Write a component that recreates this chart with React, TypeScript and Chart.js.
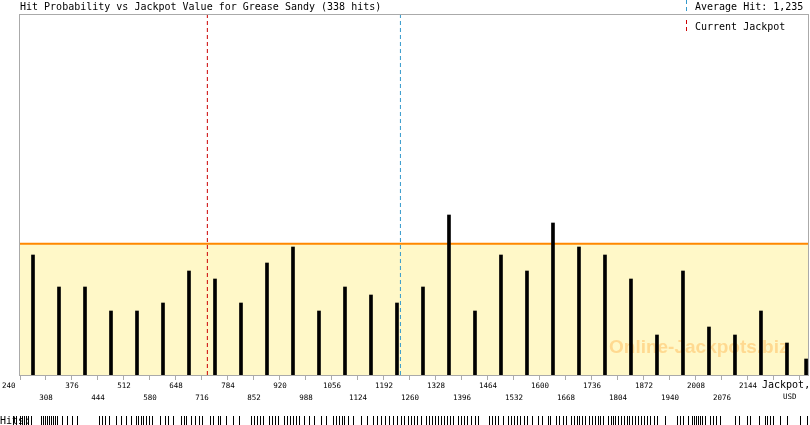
import { useEffect, useRef } from 'react';
import { Chart, registerables } from 'chart.js';

Chart.register(...registerables);

// jackpot bins (centre of each 68-wide bin; last bin is cut by the axis end)
const binCenters = [
  274, 342, 410, 478, 546, 614, 682, 750, 818, 886, 954, 1022, 1090, 1158, 1226, 1294,
  1362, 1430, 1498, 1566, 1634, 1702, 1770, 1838, 1906, 1974, 2042, 2110, 2178, 2246, 2296,
];
const hitCounts = [
  15, 11, 11, 8, 8, 9, 13, 12, 9, 14, 16, 8, 11, 10, 9, 11,
  20, 8, 15, 13, 19, 16, 15, 12, 5, 13, 6, 5, 8, 4, 2,
];

const tickValues = [
  240, 308, 376, 444, 512, 580, 648, 716, 784, 852, 920, 988, 1056, 1124, 1192, 1260,
  1328, 1396, 1464, 1532, 1600, 1668, 1736, 1804, 1872, 1940, 2008, 2076, 2144, 2212, 2280,
];
const labelledTicks = 29;

// jackpot value at each single hit (the strip under the axis)
const hitJackpots = [
  222, 230, 240, 245, 250, 256, 261, 269, 295, 300, 306, 311, 316, 321, 327, 332, 337, 350,
  363, 376, 389, 447, 455, 463, 473, 492, 505, 518, 531, 544, 549, 557, 563, 570, 578, 586,
  607, 620, 626, 639, 662, 670, 675, 686, 699, 709, 717, 738, 746, 757, 762, 778, 796, 814,
  843, 851, 859, 867, 875, 890, 898, 906, 914, 930, 938, 945, 953, 961, 969, 982, 995, 1008,
  1027, 1040, 1058, 1066, 1074, 1082, 1087, 1098, 1111, 1132, 1147, 1163, 1174, 1184, 1195,
  1205, 1216, 1226, 1237, 1244, 1255, 1263, 1271, 1279, 1289, 1302, 1310, 1318, 1326, 1334,
  1341, 1349, 1357, 1365, 1373, 1386, 1394, 1402, 1410, 1420, 1431, 1439, 1467, 1475, 1483,
  1491, 1504, 1517, 1525, 1533, 1541, 1549, 1557, 1567, 1578, 1596, 1606, 1622, 1627, 1643,
  1651, 1661, 1669, 1680, 1688, 1696, 1703, 1711, 1719, 1727, 1735, 1743, 1751, 1758, 1766,
  1779, 1785, 1790, 1795, 1803, 1811, 1819, 1827, 1832, 1840, 1848, 1856, 1863, 1871, 1879,
  1887, 1897, 1905, 1926, 1958, 1966, 1974, 1987, 1997, 2002, 2008, 2013, 2018, 2023, 2031,
  2044, 2052, 2060, 2071, 2110, 2120, 2141, 2149, 2173, 2189, 2194, 2202, 2210, 2228, 2246,
  2280, 2299,
];

const axisMin = 240;
const axisMax = 2301;
const yMax = 45;
const averageHit = 1235;
const currentJackpot = 730;
const averageLevel = 16.4;
const totalHits = 338;
const gameName = 'Grease Sandy';

const MONO = '"DejaVu Sans Mono", monospace';
const FRAME = '#aaaaaa';
const BLUE = '#3399cc';
const RED = '#cc0000';

const decor = {
  id: 'decor',
  afterDatasetDraw(chart: any, args: any) {
    if (args.index !== 0) return;
    const { ctx, chartArea } = chart;
    ctx.save();
    ctx.font = 'bold 19px "Liberation Sans", Arial, sans-serif';
    ctx.fillStyle = 'rgba(255,160,40,0.35)';
    ctx.textAlign = 'left';
    ctx.textBaseline = 'middle';
    ctx.fillText('Online-Jackpots.biz', chartArea.right - 199, chartArea.bottom - 27);
    ctx.restore();
  },
  afterDraw(chart: any) {
    const { ctx, chartArea } = chart;
    const x = chart.scales.x;
    ctx.save();
    ctx.strokeStyle = FRAME;
    ctx.lineWidth = 1;
    ctx.strokeRect(chartArea.left - 0.5, chartArea.top - 0.5, chartArea.right - chartArea.left + 1, chartArea.bottom - chartArea.top + 1);

    ctx.fillStyle = '#000';
    ctx.font = `10px ${MONO}`;
    ctx.textBaseline = 'middle';
    ctx.textAlign = 'left';
    ctx.fillText(`Hit Probability vs Jackpot Value for ${gameName} (${totalHits} hits)`, chartArea.left, 7);
    ctx.fillText(`Average Hit: ${averageHit.toLocaleString('en-US')}`, 695, 7);
    ctx.fillText('Current Jackpot', 695, 27);
    ctx.fillText('Jackpot,', 762, chartArea.bottom + 10);
    ctx.font = `7.5px ${MONO}`;
    ctx.fillText('USD', 783, chartArea.bottom + 22.5);
    ctx.font = `10px ${MONO}`;
    ctx.fillText('Hits:', 0, 421);

    ctx.lineWidth = 1;
    ctx.setLineDash([4, 3]);
    ctx.strokeStyle = BLUE;
    ctx.beginPath();
    ctx.moveTo(686.5, 0);
    ctx.lineTo(686.5, 12);
    ctx.stroke();
    ctx.strokeStyle = RED;
    ctx.beginPath();
    ctx.moveTo(686.5, 20);
    ctx.lineTo(686.5, 33);
    ctx.stroke();
    ctx.setLineDash([]);

    ctx.fillStyle = '#000';
    hitJackpots.forEach((v) => {
      ctx.fillRect(Math.round(x.getPixelForValue(v)), 416, 1, 10);
    });
    ctx.restore();
  },
};

export default function App() {
  const canvasRef = useRef<HTMLCanvasElement>(null);
  const chartRef = useRef<Chart | null>(null);

  useEffect(() => {
    document.body.style.margin = '0';
    if (!canvasRef.current) return;

    chartRef.current = new Chart(canvasRef.current, {
      type: 'bar',
      data: {
        datasets: [
          {
            type: 'line',
            data: [{ x: axisMin, y: averageLevel }, { x: axisMax, y: averageLevel }],
            borderColor: '#ff8800',
            borderWidth: 2,
            backgroundColor: '#fff8c8',
            fill: 'origin',
            pointRadius: 0,
            order: 3,
          } as any,
          {
            data: binCenters.map((c, i) => ({ x: c, y: hitCounts[i] })),
            backgroundColor: '#000',
            barThickness: 3,
            order: 1,
          },
          {
            type: 'line',
            data: [{ x: averageHit, y: 0 }, { x: averageHit, y: yMax }],
            borderColor: BLUE,
            borderWidth: 1,
            borderDash: [4, 3],
            pointRadius: 0,
            fill: false,
            order: 0,
          } as any,
          {
            type: 'line',
            data: [{ x: currentJackpot, y: 0 }, { x: currentJackpot, y: yMax }],
            borderColor: RED,
            borderWidth: 1,
            borderDash: [4, 3],
            pointRadius: 0,
            fill: false,
            order: 0,
          } as any,
        ],
      },
      options: {
        responsive: true,
        maintainAspectRatio: false,
        animation: false,
        layout: { padding: { left: 20, right: 2, top: 15, bottom: 0 } },
        plugins: { legend: { display: false }, tooltip: { enabled: false }, title: { display: false } },
        scales: {
          x: {
            type: 'linear',
            min: axisMin,
            max: axisMax,
            offset: false,
            afterFit: (s: any) => {
              s.height = 50;
            },
            afterBuildTicks: (s: any) => {
              s.ticks = tickValues.map((v) => ({ value: v }));
            },
            border: { color: FRAME, width: 1 },
            grid: { offset: false, drawOnChartArea: false, drawTicks: true, tickLength: 5, tickColor: FRAME },
            ticks: {
              autoSkip: false,
              maxRotation: 0,
              padding: 0,
              color: '#000',
              font: { family: MONO, size: 7.5, lineHeight: 1.6 },
              callback: (_v: any, i: number) => {
                if (i >= labelledTicks) return '';
                const t = String(tickValues[i]);
                if (i === 0) return t + '     ';
                return i % 2 === 0 ? t : ['', t];
              },
            },
          },
          y: { display: false, min: 0, max: yMax },
        },
      },
      plugins: [decor],
    });

    return () => {
      chartRef.current?.destroy();
      chartRef.current = null;
    };
  }, []);

  return (
    <div style={{ position: 'absolute', left: 0, top: 0, width: 810, height: 425, background: '#fff' }}>
      <canvas ref={canvasRef} />
    </div>
  );
}
